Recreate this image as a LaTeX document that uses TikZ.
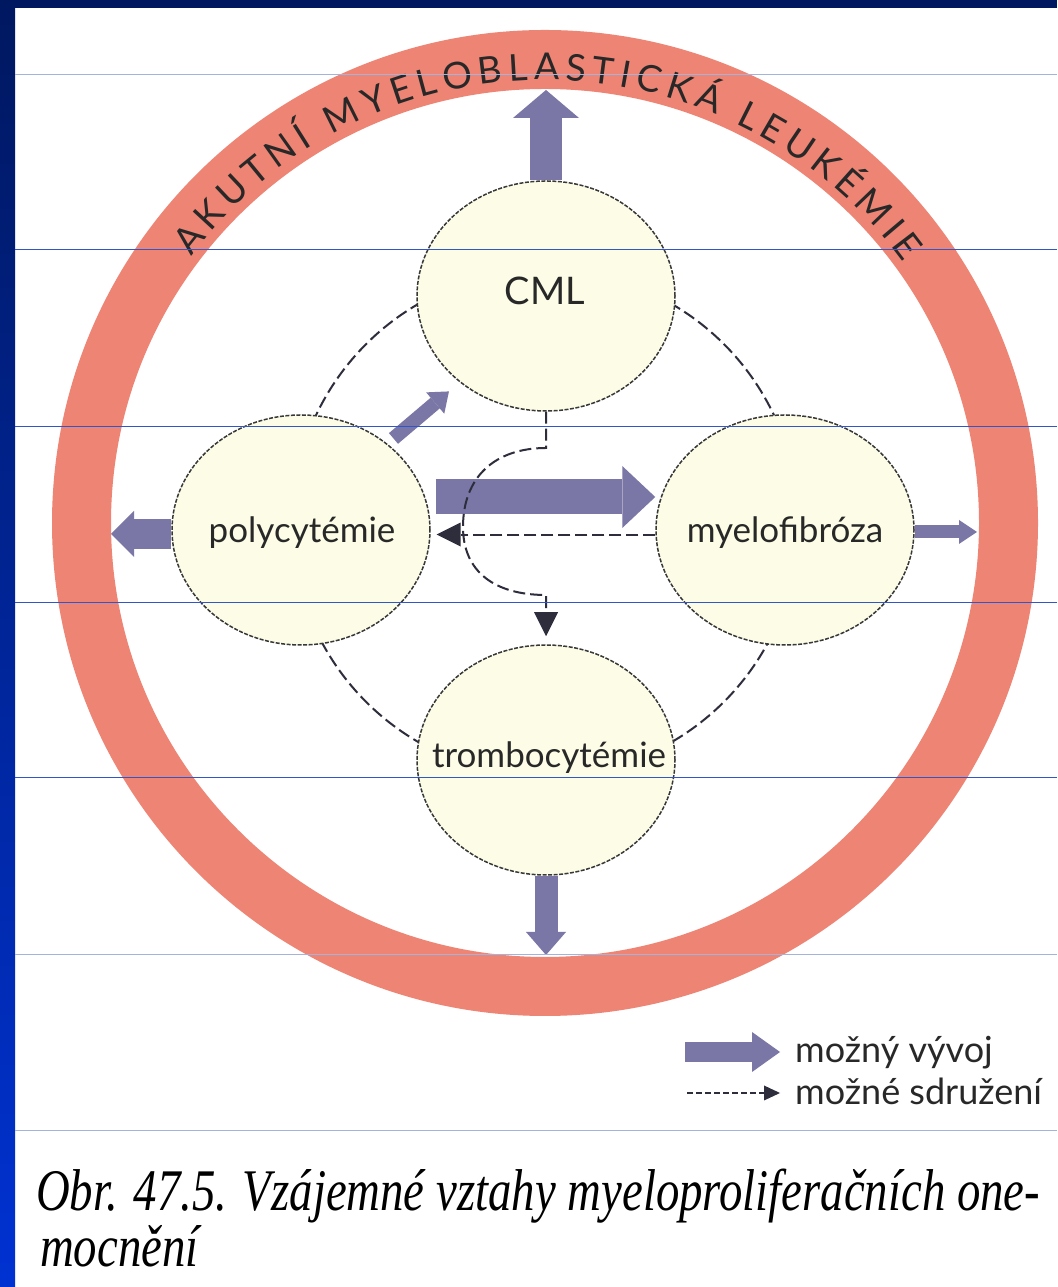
\documentclass[tikz,border=0pt]{standalone}
\usepackage{graphicx}
\usepackage{fontspec}
\setmainfont{Lato}
\newfontfamily\capfont{Liberation Serif}
\usetikzlibrary{shapes.geometric,arrows.meta,decorations.text,calc}
\definecolor{ringred}{RGB}{238,132,116}
\definecolor{cream}{RGB}{253,252,230}
\definecolor{fatc}{RGB}{122,118,165}
\definecolor{dashc}{RGB}{45,45,60}
\definecolor{navy}{RGB}{0,24,96}
\definecolor{brightblue}{RGB}{0,50,210}
\definecolor{rulestrong}{RGB}{50,85,200}
\definecolor{rulelight}{RGB}{165,178,220}
\definecolor{inkc}{RGB}{40,40,40}
\newlength\capw
\newcommand\ringfnt{\fontsize{37}{40}\selectfont}
\newcommand\capsize{\capfont\itshape\fontsize{59}{64}\selectfont}
\begin{document}
\settowidth\capw{\capsize Obr. 47.5. Vzájemné vztahy myeloproliferačních one-}%
\pgfmathsetmacro\capsc{1004/\capw}%
\begin{tikzpicture}[x=1pt,y=1pt,
  cell/.style={ellipse, minimum width=258pt, minimum height=230pt, inner sep=0pt,
    fill=cream, draw=black!78, line width=1.5pt, dash pattern=on 4pt off 1.5pt},
  lbl/.style={anchor=base, inner sep=0pt, font=\fontsize{35}{40}\selectfont, text=inkc},
  leglbl/.style={anchor=base west, inner sep=0pt, font=\fontsize{36}{40}\selectfont, text=inkc},
  fatarrow/.style n args={3}{draw=fatc, line width=#1,
    -{Triangle[width=#2,length=#3,line width=0pt,fill=fatc]}},
  dashln/.style={draw=dashc, line width=2pt, dash pattern=on 12pt off 5pt},
  dasharrow/.style={dashln, -{Triangle[width=24pt,length=24pt,line width=0pt,fill=dashc]}},
  caption/.style={anchor=base west, inner sep=0pt, text=black}
]
\useasboundingbox (0,0) rectangle (1057,1287);
% background and frame
\fill[white] (0,0) rectangle (1057,1287);
\shade[top color=navy, bottom color=brightblue] (0,0) rectangle (15,1287);
\fill[navy] (0,1279) rectangle (1057,1287);

% ring
\coordinate (rc) at (545,764);
\draw[ringred, line width=59pt] (rc) circle[radius=463.5];
\path[decorate, decoration={text along path,
    text={|\ringfnt|AKUTNÍ MYELOBLASTICKÁ LEUKÉMIE},
    text align=fit to path, text color=inkc}]
  ($(rc)+(143:443)$) arc[start angle=143, end angle=36, radius=443];

% dashed association circle
\draw[dashln] (rc) circle[radius=253];

% disease nodes
\node[cell] (CML) at (546,991) {};
\node[cell] (poly) at (301,757) {};
\node[cell] (myelo) at (785,757) {};
\node[cell] (trombo) at (546,527) {};

\node[lbl, font=\fontsize{38}{42}\selectfont] (tCML) at (545,982) {CML};
\node[lbl] (tpoly) at (302,744) {polycytémie};
\node[lbl] (tmyelo) at (785,744) {myelofibróza};
\node[lbl] (ttrombo) at (549,519) {trombocytémie};

% free ends
\coordinate (tipT) at (546,1197);
\coordinate (tipL) at (111,753);
\coordinate (tipR) at (977,755);
\coordinate (tipB) at (546,332);

% possible development (fat arrows)
\draw[fatarrow={32pt}{66pt}{28pt}] (CML.north) -- (tipT);
\draw[fatarrow={30pt}{46pt}{23pt}] (poly.west |- tipL) -- (tipL);
\draw[fatarrow={13pt}{24pt}{18pt}] (myelo.east |- tipR) -- (tipR);
\draw[fatarrow={23pt}{40pt}{23pt}] (trombo.south) -- (tipB);
\draw[fatarrow={35pt}{62pt}{33pt}, shorten <=5pt] ([yshift=33pt]poly.east) -- ([yshift=33pt]myelo.west);
\draw[fatarrow={14pt}{28pt}{18pt}, shorten <=8pt, shorten >=14pt] (poly.45) -- (CML.225);

% possible associations (dashed arrows)
\draw[dasharrow, shorten >=6pt] (myelo.182) -- (poly.358);
\draw[dasharrow, shorten >=8pt] (CML.south) -- (546,839)
  .. controls (495,839) and (463,810) .. (463,760)
  .. controls (463,715) and (495,692) .. (546,692) -- (trombo.north);

% legend
\coordinate (lg1a) at (685,235);
\coordinate (lg1b) at (780,235);
\coordinate (lg2a) at (687,194);
\coordinate (lg2b) at (780,194);
\draw[fatarrow={20pt}{40pt}{28pt}] (lg1a) -- (lg1b);
\draw[draw=dashc, line width=1.5pt, dash pattern=on 6pt off 3pt,
  -{Triangle[width=15pt,length=16pt,line width=0pt,fill=dashc]}] (lg2a) -- (lg2b);
\node[leglbl] (lgt1) at (795,224) {možný vývoj};
\node[leglbl] (lgt2) at (795,182) {možné sdružení};

% caption
\node[caption] (cap1) at (36,76) {\scalebox{\capsc}[1]{\capsize Obr. 47.5. Vzájemné vztahy myeloproliferačních one-}};
\node[caption] (cap2) at (40,20) {\scalebox{\capsc}[1]{\capsize mocnění}};

% slide rules on top
\foreach \yy in {1037,860,684,509}
  \draw[rulestrong, line width=1pt] (15,\yy) -- (1057,\yy);
\foreach \yy in {1212,332,156}
  \draw[rulelight, line width=1pt] (15,\yy) -- (1057,\yy);
\end{tikzpicture}
\end{document}
